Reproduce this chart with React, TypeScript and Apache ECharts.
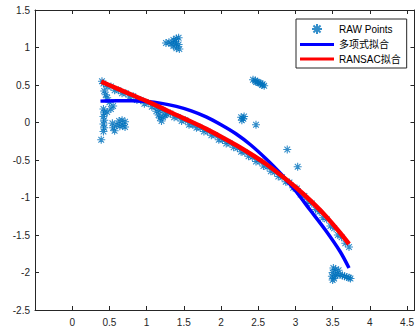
import { useEffect, useRef } from 'react';
import * as echarts from 'echarts';

// Raw samples along the main curve
const bandPoints: [number, number][] = [
  [0.42, 0.52], [0.47, 0.48], [0.52, 0.48], [0.57, 0.43], [0.62, 0.43], [0.67, 0.39],
  [0.72, 0.39], [0.77, 0.34], [0.82, 0.35], [0.87, 0.3], [0.92, 0.3], [0.97, 0.25],
  [1.02, 0.26], [1.07, 0.21], [1.12, 0.21], [1.17, 0.16], [1.22, 0.16], [1.27, 0.11],
  [1.32, 0.12], [1.37, 0.07], [1.42, 0.07], [1.47, 0.02], [1.52, 0.03], [1.57, -0.03],
  [1.62, -0.03], [1.67, -0.07], [1.72, -0.07], [1.77, -0.12], [1.82, -0.12], [1.87, -0.17],
  [1.92, -0.17], [1.97, -0.23], [2.02, -0.23], [2.07, -0.28], [2.12, -0.28], [2.17, -0.33],
  [2.22, -0.34], [2.27, -0.39], [2.32, -0.4], [2.37, -0.45], [2.42, -0.46], [2.47, -0.52],
  [2.52, -0.52], [2.57, -0.58], [2.62, -0.59], [2.67, -0.65], [2.72, -0.66], [2.77, -0.72],
  [2.82, -0.73], [2.87, -0.79], [2.92, -0.8], [2.97, -0.87], [3.02, -0.88], [3.07, -0.96],
  [3.12, -0.98], [3.17, -1.06], [3.22, -1.08], [3.27, -1.16], [3.32, -1.19], [3.37, -1.27],
  [3.42, -1.29], [3.47, -1.38], [3.52, -1.41], [3.57, -1.5], [3.62, -1.53], [3.67, -1.61],
  [3.72, -1.66],
];

// Samples near the left end, below the curve start
const leftClusterPoints: [number, number][] = [
  [0.4, 0.55], [0.43, 0.42], [0.45, 0.37], [0.47, 0.33], [0.5, 0.27], [0.55, 0.22],
  [0.52, 0.18], [0.47, 0.14], [0.42, 0.18], [0.43, 0.13], [0.42, 0.08], [0.43, 0.03],
  [0.42, -0.02], [0.43, -0.07], [0.42, -0.12], [0.39, -0.23],
  [0.54, -0.01], [0.55, -0.07], [0.57, -0.11], [0.6, -0.03], [0.63, 0.02], [0.64, -0.05],
  [0.67, 0.03], [0.68, -0.04], [0.71, 0.01], [0.71, -0.06],
  [1.13, 0.15], [1.16, 0.1], [1.18, 0.06], [1.2, 0.02], [1.22, 0.07], [1.25, 0.1],
];

// Outlying groups away from the curve
const outlierPoints: [number, number][] = [
  [1.26, 1.06], [1.3, 1.07], [1.33, 1.05], [1.36, 1.1], [1.36, 1.02], [1.38, 1.08],
  [1.4, 1.12], [1.4, 1.05], [1.4, 0.99], [1.43, 1.13], [1.43, 1.04], [1.44, 0.98],
  [2.43, 0.57], [2.46, 0.56], [2.47, 0.54], [2.49, 0.54], [2.51, 0.53], [2.53, 0.52],
  [2.55, 0.5], [2.56, 0.51], [2.58, 0.49],
  [2.27, 0.07], [2.3, 0.05], [2.28, 0.03], [2.31, 0.08],
  [2.47, -0.03], [2.89, -0.36], [3.03, -0.59],
  [3.49, -2.05], [3.5, -2.0], [3.5, -2.1], [3.51, -1.94], [3.52, -2.08], [3.54, -1.96],
  [3.54, -2.04], [3.56, -2.02], [3.58, -1.97], [3.6, -2.03], [3.63, -2.04], [3.66, -2.05],
  [3.69, -2.06], [3.72, -2.07], [3.74, -2.08],
];

// Polynomial fit curve
const polyFit: [number, number][] = [
  [0.38, 0.285], [0.6, 0.29], [0.8, 0.29], [1.0, 0.28], [1.2, 0.255], [1.4, 0.215],
  [1.6, 0.155], [1.8, 0.075], [2.0, -0.03], [2.2, -0.15], [2.4, -0.3], [2.6, -0.48],
  [2.8, -0.68], [3.0, -0.91], [3.2, -1.17], [3.4, -1.43], [3.6, -1.72], [3.72, -1.94],
];

// RANSAC fit curve
const ransacFit: [number, number][] = [
  [0.39, 0.545], [0.6, 0.455], [0.8, 0.37], [1.0, 0.285], [1.2, 0.195], [1.4, 0.1],
  [1.6, 0.01], [1.8, -0.085], [2.0, -0.19], [2.2, -0.3], [2.4, -0.42], [2.6, -0.55],
  [2.8, -0.7], [3.0, -0.86], [3.2, -1.04], [3.4, -1.24], [3.6, -1.47], [3.72, -1.62],
];

const seriesNames = ['RAW Points', '多项式拟合', 'RANSAC拟合'];

const AXIS_COLOR = '#262626';
const FONT = "'Liberation Sans', Arial, 'Noto Sans CJK SC', sans-serif";
const ASTERISK = 'path://M5 0L5 10M0 5L10 5M1.46 1.46L8.54 8.54M1.46 8.54L8.54 1.46';
const LEGEND_BAR = 'path://M0 0L34 0L34 3L0 3Z';

const xLabel = (v: number) => (v < -0.25 || v > 4.55 ? '' : String(v));

export default function App() {
  const ref = useRef<HTMLDivElement>(null);

  useEffect(() => {
    const chart = echarts.init(ref.current!, null, { renderer: 'svg' });
    const axisLine = { show: true, onZero: false, lineStyle: { color: AXIS_COLOR, width: 1 } };
    const axisTick = { show: true, inside: true, length: 4, lineStyle: { color: AXIS_COLOR } };
    const rawPoints = [...bandPoints, ...leftClusterPoints, ...outlierPoints];

    chart.setOption({
      animation: false,
      backgroundColor: '#fff',
      grid: { left: 35, top: 10, width: 381.5, height: 300 },
      xAxis: [
        {
          type: 'value', min: -0.5, max: 4.6, interval: 0.5, position: 'bottom',
          axisLine, axisTick, splitLine: { show: false },
          axisLabel: { formatter: xLabel, color: AXIS_COLOR, fontSize: 10, margin: 7, fontFamily: FONT, showMaxLabel: false },
        },
        {
          type: 'value', min: -0.5, max: 4.6, interval: 0.5, position: 'top',
          axisLine, axisTick, splitLine: { show: false }, axisLabel: { show: false },
        },
      ],
      yAxis: [
        {
          type: 'value', min: -2.5, max: 1.5, interval: 0.5, position: 'left',
          axisLine, axisTick, splitLine: { show: false },
          axisLabel: { color: AXIS_COLOR, fontSize: 10, margin: 5, fontFamily: FONT },
        },
        {
          type: 'value', min: -2.5, max: 1.5, interval: 0.5, position: 'right',
          axisLine, axisTick, splitLine: { show: false }, axisLabel: { show: false },
        },
      ],
      legend: {
        data: [
          { name: seriesNames[0] },
          { name: seriesNames[1], icon: LEGEND_BAR },
          { name: seriesNames[2], icon: LEGEND_BAR },
        ],
        orient: 'vertical',
        left: 296,
        top: 19,
        itemWidth: 34,
        itemHeight: 10,
        itemGap: 4.5,
        padding: [4, 6, 4, 4],
        borderColor: AXIS_COLOR,
        borderWidth: 1,
        backgroundColor: '#fff',
        textStyle: { fontSize: 10, color: '#000', fontFamily: FONT },
      },
      series: [
        {
          name: seriesNames[0],
          type: 'scatter',
          data: rawPoints,
          symbol: ASTERISK,
          symbolSize: 8,
          itemStyle: { color: '#0072BD', borderColor: '#0072BD', borderWidth: 1.1 },
        },
        {
          name: seriesNames[1],
          type: 'line',
          data: polyFit,
          smooth: 0.3,
          symbol: 'none',
          lineStyle: { color: '#0000FF', width: 3.5 },
          itemStyle: { color: '#0000FF' },
        },
        {
          name: seriesNames[2],
          type: 'line',
          data: ransacFit,
          smooth: 0.3,
          symbol: 'none',
          lineStyle: { color: '#FF0000', width: 4.5 },
          itemStyle: { color: '#FF0000' },
        },
      ],
    });
    return () => chart.dispose();
  }, []);

  return (
    <div
      ref={ref}
      style={{ position: 'absolute', left: 0, top: 0, width: 417, height: 334, background: '#fff' }}
    />
  );
}
